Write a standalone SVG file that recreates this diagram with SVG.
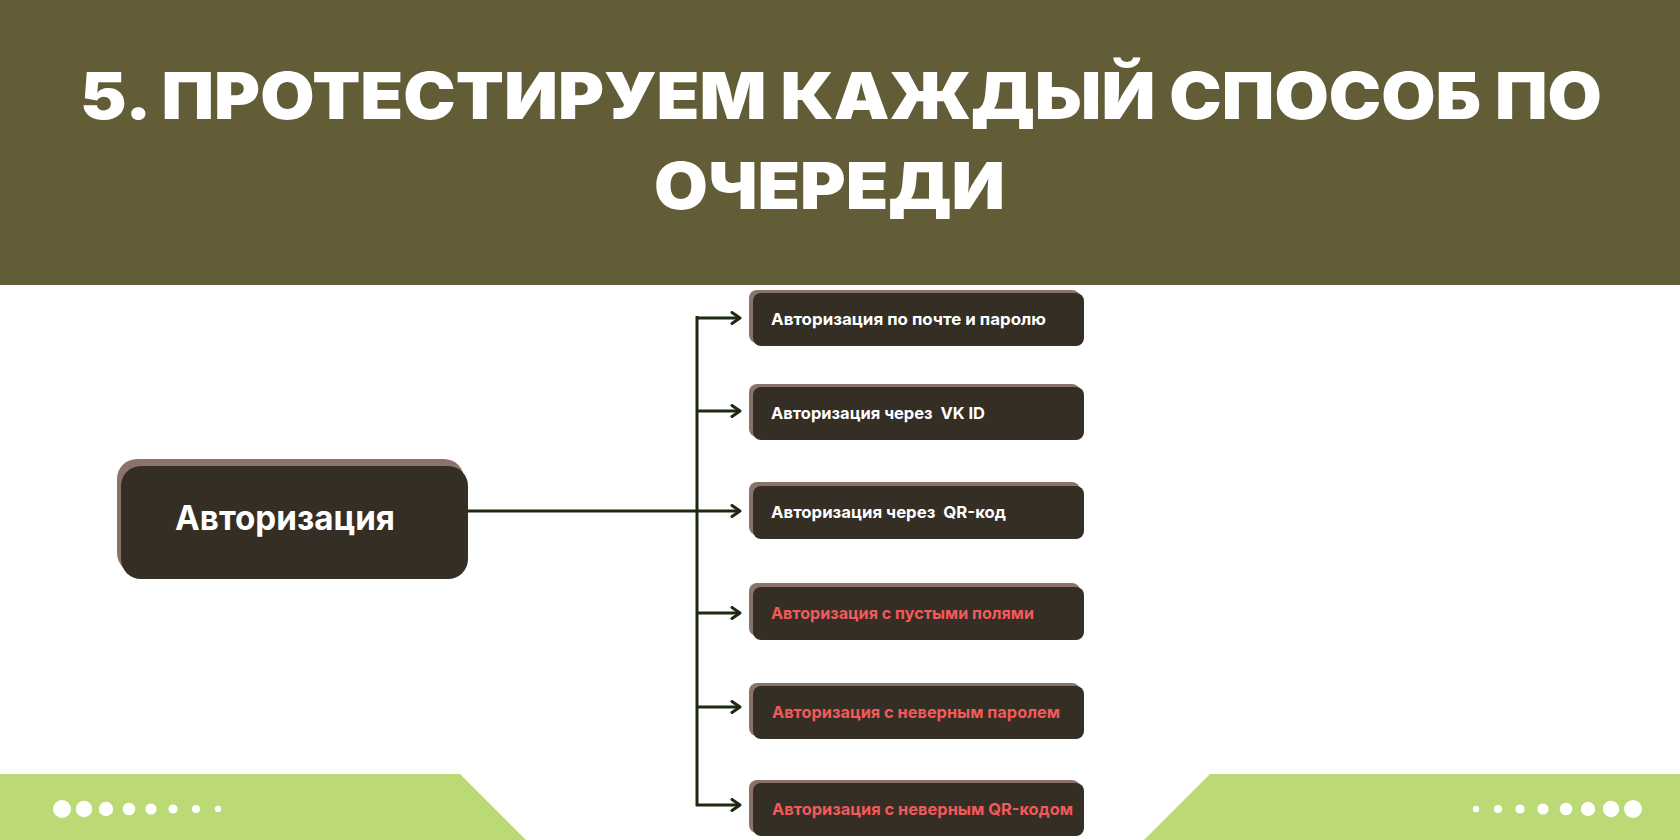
<svg xmlns="http://www.w3.org/2000/svg" width="1680" height="840" viewBox="0 0 1680 840">
  <style>
    .title { font-family: "Inter", "Liberation Sans", sans-serif; font-weight: 900; font-size: 64px; fill: #FFFFFF; }
    .main-label { font-family: "Inter", "Liberation Sans", sans-serif; font-weight: 700; font-size: 34px; fill: #FFFFFF; }
    .lbl { font-family: "Inter", "Liberation Sans", sans-serif; font-weight: 700; font-size: 16.5px; }
    .white { fill: #FFFFFF; }
    .red { fill: #F25A5A; }
    .box { fill: #352E25; }
    .shadow { fill: #8C736A; }
    .conn { stroke: #1B2A10; stroke-width: 3; fill: none; }
    .dot { fill: #FFFFFF; }
    .bar { fill: #BBD975; }
  </style>
  <defs>
    <marker id="arrow" viewBox="0 0 12 14" refX="10" refY="7" markerWidth="12" markerHeight="14" markerUnits="userSpaceOnUse" orient="auto">
      <path d="M2,1.5 L10,7 L2,12.5" fill="none" stroke="#1B2A10" stroke-width="3" stroke-linecap="round" stroke-linejoin="round"/>
    </marker>
  </defs>

  <rect x="0" y="0" width="1680" height="840" fill="#FFFFFF"/>

  <g id="header">
    <rect x="0" y="0" width="1680" height="285" fill="#625C37"/>
    <text class="title" x="80" y="119" textLength="1522" lengthAdjust="spacingAndGlyphs">5. ПРОТЕСТИРУЕМ КАЖДЫЙ СПОСОБ ПО</text>
    <text class="title" x="654" y="209" textLength="351" lengthAdjust="spacingAndGlyphs">ОЧЕРЕДИ</text>
  </g>

  <g id="footer">
    <polygon class="bar" points="0,774 460,774 526,840 0,840"/>
    <polygon class="bar" points="1210,774 1680,774 1680,840 1144,840"/>
    <circle class="dot" cx="62" cy="809" r="9"/>
    <circle class="dot" cx="84" cy="809" r="8.2"/>
    <circle class="dot" cx="106" cy="809" r="7.2"/>
    <circle class="dot" cx="129" cy="809" r="6.3"/>
    <circle class="dot" cx="151" cy="809" r="5.6"/>
    <circle class="dot" cx="173" cy="809" r="4.6"/>
    <circle class="dot" cx="196" cy="809" r="4"/>
    <circle class="dot" cx="218" cy="809" r="3.2"/>
    <circle class="dot" cx="1476" cy="809" r="3.2"/>
    <circle class="dot" cx="1498" cy="809" r="4"/>
    <circle class="dot" cx="1520" cy="809" r="4.6"/>
    <circle class="dot" cx="1543" cy="809" r="5.6"/>
    <circle class="dot" cx="1566" cy="809" r="6.3"/>
    <circle class="dot" cx="1588" cy="809" r="7.2"/>
    <circle class="dot" cx="1611" cy="809" r="8.2"/>
    <circle class="dot" cx="1633" cy="809" r="9"/>
  </g>

  <g id="connectors">
    <line class="conn" x1="468" y1="511" x2="740" y2="511" marker-end="url(#arrow)"/>
    <line class="conn" x1="697" y1="316" x2="697" y2="806"/>
    <line class="conn" x1="696" y1="318" x2="740" y2="318" marker-end="url(#arrow)"/>
    <line class="conn" x1="697" y1="411" x2="740" y2="411" marker-end="url(#arrow)"/>
    <line class="conn" x1="697" y1="613" x2="740" y2="613" marker-end="url(#arrow)"/>
    <line class="conn" x1="697" y1="707" x2="740" y2="707" marker-end="url(#arrow)"/>
    <line class="conn" x1="696" y1="805" x2="740" y2="805" marker-end="url(#arrow)"/>
  </g>

  <g id="node-main">
    <rect class="shadow" x="117" y="459" width="347" height="114" rx="20"/>
    <rect class="box" x="121" y="466" width="347" height="113" rx="20"/>
    <text class="main-label" x="175" y="530" textLength="220" lengthAdjust="spacingAndGlyphs">Авторизация</text>
  </g>

  <g id="node-1">
    <rect class="shadow" x="749" y="290" width="331" height="53" rx="8"/>
    <rect class="box" x="753" y="293" width="331" height="53" rx="8"/>
    <text class="lbl white" x="771" y="325" textLength="275" lengthAdjust="spacingAndGlyphs">Авторизация по почте и паролю</text>
  </g>

  <g id="node-2">
    <rect class="shadow" x="749" y="384" width="331" height="53" rx="8"/>
    <rect class="box" x="753" y="387" width="331" height="53" rx="8"/>
    <text class="lbl white" x="771" y="419" textLength="214" lengthAdjust="spacingAndGlyphs" xml:space="preserve">Авторизация через  VK ID</text>
  </g>

  <g id="node-3">
    <rect class="shadow" x="749" y="482" width="331" height="53" rx="8"/>
    <rect class="box" x="753" y="486" width="331" height="53" rx="8"/>
    <text class="lbl white" x="771" y="518" textLength="235" lengthAdjust="spacingAndGlyphs" xml:space="preserve">Авторизация через  QR-код</text>
  </g>

  <g id="node-4">
    <rect class="shadow" x="749" y="583" width="331" height="53" rx="8"/>
    <rect class="box" x="753" y="587" width="331" height="53" rx="8"/>
    <text class="lbl red" x="771" y="619" textLength="263" lengthAdjust="spacingAndGlyphs">Авторизация с пустыми полями</text>
  </g>

  <g id="node-5">
    <rect class="shadow" x="749" y="683" width="331" height="53" rx="8"/>
    <rect class="box" x="753" y="686" width="331" height="53" rx="8"/>
    <text class="lbl red" x="772" y="718" textLength="288" lengthAdjust="spacingAndGlyphs">Авторизация с неверным паролем</text>
  </g>

  <g id="node-6">
    <rect class="shadow" x="749" y="780" width="331" height="53" rx="8"/>
    <rect class="box" x="753" y="783" width="331" height="53" rx="8"/>
    <text class="lbl red" x="772" y="815" textLength="301" lengthAdjust="spacingAndGlyphs">Авторизация с неверным QR-кодом</text>
  </g>
</svg>
